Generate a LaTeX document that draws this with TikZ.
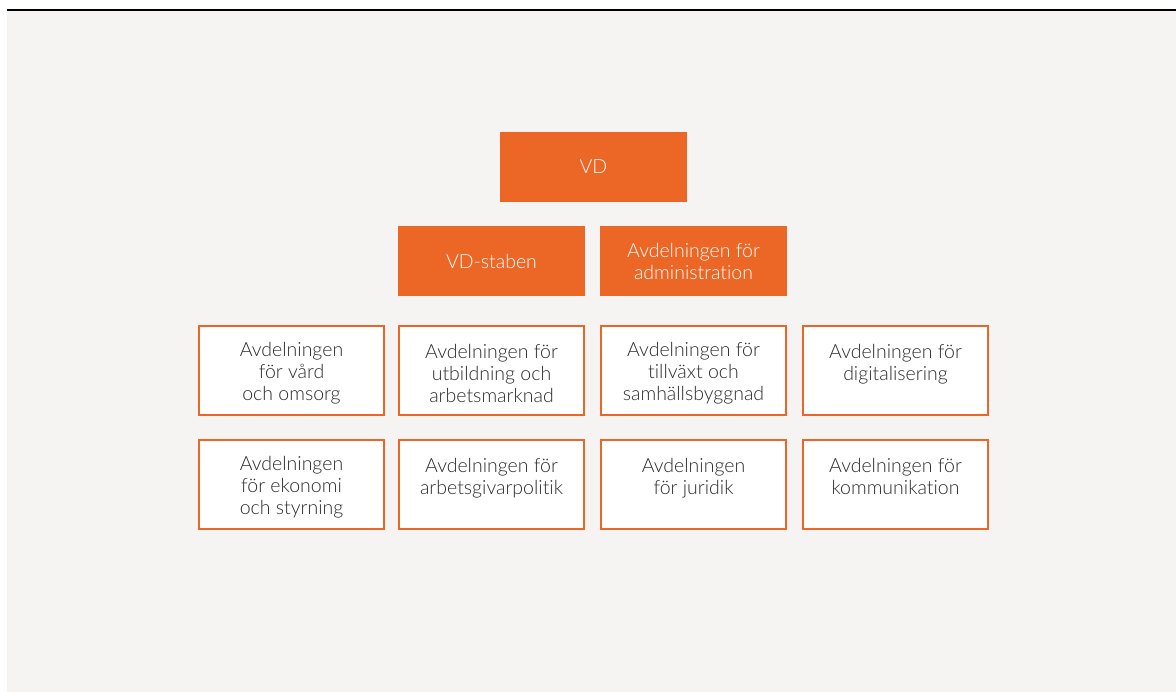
\documentclass[tikz,border=0pt]{standalone}
\usepackage{fontspec}
\setmainfont{Lato}[UprightFont=* Light, Ligatures=NoCommon]
\definecolor{bg}{HTML}{F5F4F2}
\definecolor{org}{HTML}{EC6726}
\definecolor{txt}{HTML}{2B2B2B}
\tikzset{
  filledbox/.style={fill=org, draw=none, text=white, minimum width=187pt, minimum height=70pt, inner sep=0pt, align=center, font=\fontsize{19.5}{22}\selectfont},
  outlinebox/.style={fill=white, draw=org, line width=2pt, minimum width=185pt, minimum height=89pt, inner sep=0pt},
  boxtext/.style={text=txt, inner sep=0pt, align=center, font=\fontsize{19.5}{22}\selectfont, yshift=-3pt},
}
\begin{document}
\begin{tikzpicture}[x=1pt,y=-1pt]
\useasboundingbox (0,0) rectangle (1176,692);
\fill[white] (0,0) rectangle (1176,692);
\fill[bg] (7,11) rectangle (1176,692);
\draw[black, line width=1.6pt] (7,10) -- (1176,10);
\node[filledbox] (vd) at (593.5,167) {VD};
\node[filledbox] (staben) at (491.5,261) {VD-staben};
\node[filledbox] (admin) at (693.5,261) {Avdelningen för\\administration};
\node[outlinebox] (vard) at (291.5,370.5) {};
\node[outlinebox] (utb) at (491.5,370.5) {};
\node[outlinebox] (till) at (693.5,370.5) {};
\node[outlinebox] (dig) at (895.5,370.5) {};
\node[outlinebox] (eko) at (291.5,484.5) {};
\node[outlinebox] (agp) at (491.5,484.5) {};
\node[outlinebox] (jur) at (693.5,484.5) {};
\node[outlinebox] (komm) at (895.5,484.5) {};
\node[boxtext] (vardt) at (vard) {Avdelningen\\för vård\\och omsorg};
\node[boxtext] (utbt) at (utb) {Avdelningen för\\utbildning och\\arbetsmarknad};
\node[boxtext] (tillt) at (till) {Avdelningen för\\tillväxt och\\samhällsbyggnad};
\node[boxtext] (digt) at (dig) {Avdelningen för\\digitalisering\\\phantom{x}};
\node[boxtext] (ekot) at (eko) {Avdelningen\\för ekonomi\\och styrning};
\node[boxtext] (agpt) at (agp) {Avdelningen för\\arbetsgivarpolitik\\\phantom{x}};
\node[boxtext] (jurt) at (jur) {Avdelningen\\för juridik\\\phantom{x}};
\node[boxtext] (kommt) at (komm) {Avdelningen för\\kommunikation\\\phantom{x}};
\end{tikzpicture}
\end{document}
